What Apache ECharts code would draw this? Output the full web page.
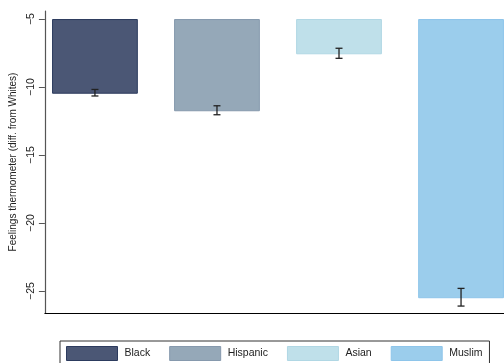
<!DOCTYPE html>
<html>
<head>
<meta charset="utf-8">
<script src="https://cdn.jsdelivr.net/npm/echarts@6/dist/echarts.min.js"></script>
<style>html,body{margin:0;padding:0;background:#fff;}#c{width:504px;height:363px;}</style>
</head>
<body>
<div id="c"></div>
<script>
var categories = ['Black', 'Hispanic', 'Asian', 'Muslim'];
var positions = [1, 2, 3, 4];
var values = [-10.42, -11.71, -7.52, -25.46];
var errors = [0.24, 0.33, 0.37, 0.65];
var baseValue = -5;
var yTicks = [-25, -20, -15, -10, -5];
var fills = ['#4b5775', '#95a8b8', '#bfe0ea', '#9bcdec'];
var borders = ['#2c3b5e', '#8699ad', '#b0d7e4', '#8ec5ea'];

var chart = echarts.init(document.getElementById('c'), null, {renderer: 'canvas'});
var FONT = 'Liberation Sans, Arial, sans-serif';

function makeRender(idx) {
  return function (params, api) {
    var x = api.value(0), v = api.value(1), e = api.value(2);
    var w = api.size([0.703, 0])[0];
    var top = api.coord([x, baseValue]);
    var bot = api.coord([x, v]);
    var eHi = api.coord([x, v + e]);
    var eLo = api.coord([x, v - e]);
    var cap = 3.5;
    var lineStyle = {stroke: '#222', lineWidth: 1.3};
    return {
      type: 'group',
      children: [
        {type: 'rect', shape: {x: top[0] - w / 2 + 0.5, y: top[1] + 0.5, width: w - 1, height: bot[1] - top[1]},
          style: {fill: fills[idx], stroke: borders[idx], lineWidth: 1}},
        {type: 'line', shape: {x1: eHi[0], y1: eHi[1], x2: eLo[0], y2: eLo[1]}, style: lineStyle},
        {type: 'line', shape: {x1: eHi[0] - cap, y1: eHi[1], x2: eHi[0] + cap, y2: eHi[1]}, style: lineStyle},
        {type: 'line', shape: {x1: eLo[0] - cap, y1: eLo[1], x2: eLo[0] + cap, y2: eLo[1]}, style: lineStyle}
      ]
    };
  };
}

var series = categories.map(function (name, i) {
  return {
    name: name,
    type: 'custom',
    renderItem: makeRender(i),
    itemStyle: {color: fills[i], borderColor: borders[i]},
    encode: {x: 0, y: 1},
    clip: false,
    data: [[positions[i], values[i], errors[i]]]
  };
});

chart.setOption({
  animation: false,
  backgroundColor: '#ffffff',
  grid: {left: 43, top: 11, right: 0, bottom: 50},
  xAxis: {
    type: 'value', min: 0.59, max: 4.352,
    axisLine: {show: true, onZero: false, lineStyle: {color: '#000', width: 1.2}},
    axisTick: {show: false}, axisLabel: {show: false}, splitLine: {show: false}
  },
  yAxis: {
    type: 'value', min: -26.62, max: -4.41,
    name: 'Feelings thermometer (diff. from Whites)',
    nameLocation: 'middle', nameGap: 17, nameRotate: 90,
    nameTextStyle: {fontFamily: FONT, fontSize: 10, color: '#222'},
    axisLine: {show: true, onZero: false, lineStyle: {color: '#555', width: 1.2}},
    axisTick: {show: true, length: 6, customValues: yTicks, lineStyle: {color: '#555', width: 1}},
    axisLabel: {show: true, customValues: yTicks, rotate: 90, margin: 8,
      fontFamily: FONT, fontSize: 10.5, color: '#222',
      formatter: function (v) { return String(v).replace('-', '\u2212'); }},
    splitLine: {show: false}
  },
  legend: {
    left: 60, top: 341,
    padding: [5, 7, 5, 6],
    borderColor: '#333', borderWidth: 1,
    itemWidth: 51, itemHeight: 14, itemGap: 19,
    icon: 'rect',
    textStyle: {fontFamily: FONT, fontSize: 10.5, color: '#222', padding: [0, 0, 0, 2]},
    data: categories.map(function (n, i) {
      return {name: n, itemStyle: {color: fills[i], borderColor: borders[i], borderWidth: 1}};
    })
  },
  series: series
});
</script>
</body>
</html>
